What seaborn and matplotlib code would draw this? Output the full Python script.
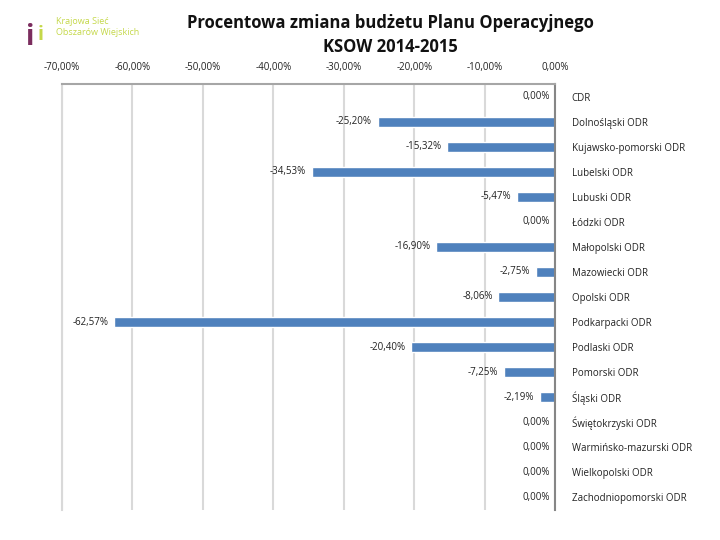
import seaborn as sns
import matplotlib.pyplot as plt
import pandas as pd

# chart data
categories = ['CDR', 'Dolnośląski ODR', 'Kujawsko-pomorski ODR', 'Lubelski ODR',
              'Lubuski ODR', 'Łódzki ODR', 'Małopolski ODR', 'Mazowiecki ODR',
              'Opolski ODR', 'Podkarpacki ODR', 'Podlaski ODR', 'Pomorski ODR',
              'Śląski ODR', 'Świętokrzyski ODR', 'Warmińsko-mazurski ODR',
              'Wielkopolski ODR', 'Zachodniopomorski ODR']
values = [0.00, -25.20, -15.32, -34.53, -5.47, 0.00, -16.90, -2.75, -8.06,
          -62.57, -20.40, -7.25, -2.19, 0.00, 0.00, 0.00, 0.00]
xticks = [-70, -60, -50, -40, -30, -20, -10, 0]

sns.set_theme(style="white")
plt.rcParams['font.family'] = ['Open Sans', 'DejaVu Sans']

def pl_pct(v):
    return f'{v:.2f}%'.replace('.', ',')

df = pd.DataFrame({'odr': categories, 'zmiana': values})

fig = plt.figure(figsize=(7.2, 5.4), dpi=100)
ax = fig.add_axes([0.086, 0.056, 0.685, 0.788])
sns.barplot(data=df, y='odr', x='zmiana', orient='h', color='#4F81BD',
            width=0.42, saturation=1, ax=ax)

ax.set_xlim(-70, 0)
ax.set_ylim(len(categories) - 0.5, -0.5)
ax.xaxis.tick_top()
ax.set_xticks(xticks)
ax.set_xticklabels([pl_pct(t) for t in xticks], fontsize=7, color='#222222')
ax.yaxis.tick_right()
ax.tick_params(axis='y', length=0, pad=12, labelsize=7, labelcolor='#222222')
ax.tick_params(axis='x', length=0, pad=8)
ax.grid(axis='x', color='#d9d9d9', lw=1.5)
ax.grid(axis='y', visible=False)
ax.set_axisbelow(True)
ax.set(xlabel=None, ylabel=None)

ax.spines['top'].set_color('#a6a6a6')
ax.spines['top'].set_linewidth(1.5)
ax.spines['right'].set_color('#868686')
ax.spines['right'].set_linewidth(1.5)
ax.spines['left'].set_color('#d9d9d9')
ax.spines['left'].set_linewidth(1.5)
ax.spines['bottom'].set_visible(False)

# value labels
for i, v in enumerate(values):
    ax.annotate(pl_pct(v), xy=(min(v, 0), i), xytext=(-4, 0),
                textcoords='offset points', ha='right', va='center',
                fontsize=7, color='#222222')

fig.text(0.542, 0.975, 'Procentowa zmiana budżetu Planu Operacyjnego\nKSOW 2014-2015',
         ha='center', va='top', fontsize=12, fontweight='bold',
         linespacing=1.45, color='#111111')

# logo
fig.text(0.042, 0.93, 'i', fontsize=20, fontweight='bold', color='#7b2d5e',
         ha='center', va='center')
fig.text(0.056, 0.935, 'i', fontsize=14, fontweight='bold', color='#c5d84a',
         ha='center', va='center')
fig.text(0.078, 0.95, 'Krajowa Sieć\nObszarów Wiejskich', fontsize=6.5,
         color='#c5d84a', ha='left', va='center', linespacing=1.3)

plt.savefig('out.png', dpi=100)
